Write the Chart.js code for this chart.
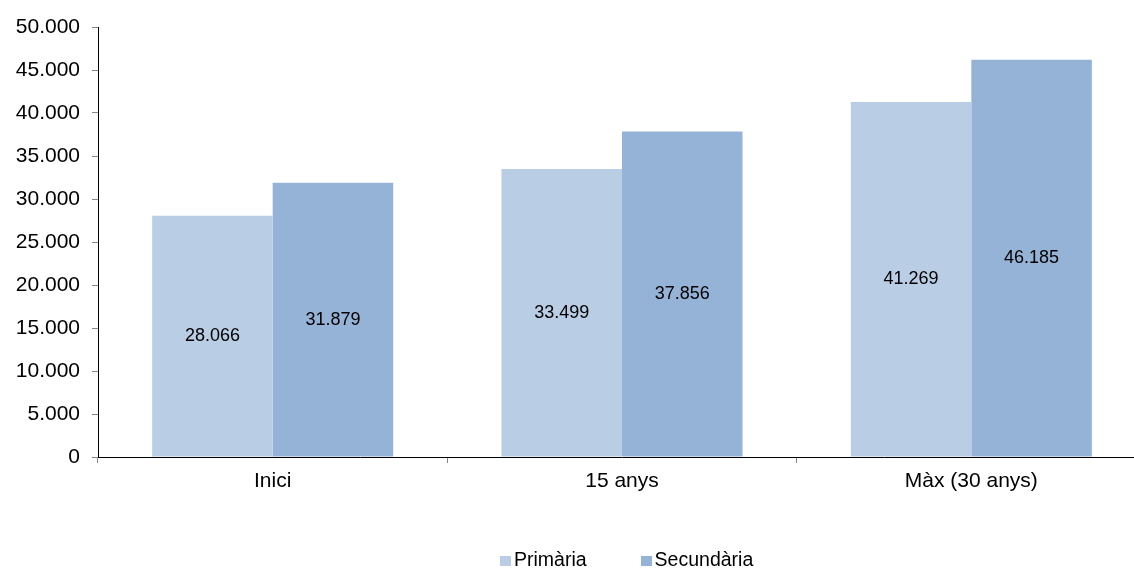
<!DOCTYPE html>
<html>
<head>
<meta charset="utf-8">
<script src="https://cdn.jsdelivr.net/npm/chart.js@4.4.0/dist/chart.umd.min.js"></script>
<style>
  html, body { margin: 0; padding: 0; background: #fff; overflow: hidden; }
  #wrap { position: absolute; left: 0; top: 0; width: 1150px; height: 570px; }
  #legend { position: absolute; left: 500px; top: 547px; display: flex; gap: 54px;
            font: 19.5px "Liberation Sans", Arial, sans-serif; color: #000; line-height: 24px; }
  #legend .item { display: flex; align-items: center; }
  #legend .box { width: 11px; height: 10px; margin-right: 3px; margin-top: 3px; }
</style>
</head>
<body>
<div id="wrap"><canvas id="myChart" width="1150" height="570"></canvas></div>
<div id="legend"></div>
<script>
const labels = ['Inici', '15 anys', 'Màx (30 anys)'];
const primaria = [28066, 33499, 41269];
const secundaria = [31879, 37856, 46185];
const seriesNames = ['Primària', 'Secundària'];
const seriesColors = ['#B9CDE5', '#95B3D7'];

function fmt(n){
  return n.toString().replace(/\B(?=(\d{3})+(?!\d))/g, '.');
}

// labels in the middle of each bar
const barValues = {
  id: 'barValues',
  afterDatasetsDraw(chart){
    const ctx = chart.ctx;
    ctx.save();
    ctx.font = '18px "Liberation Sans", Arial, sans-serif';
    ctx.fillStyle = '#000';
    ctx.textAlign = 'center';
    ctx.textBaseline = 'middle';
    chart.data.datasets.forEach(function(ds, i){
      chart.getDatasetMeta(i).data.forEach(function(bar, j){
        ctx.fillText(fmt(ds.data[j]), bar.x, (bar.y + bar.base) / 2);
      });
    });
    ctx.restore();
  }
};

const data = {
  labels: labels,
  datasets: [{
    label: seriesNames[0],
    backgroundColor: seriesColors[0],
    data: primaria
  },
  {
    label: seriesNames[1],
    backgroundColor: seriesColors[1],
    data: secundaria
  }]
};

const config = {
  type: 'bar',
  data: data,
  options: {
    responsive: false,
    animation: false,
    layout: { padding: { top: 27, right: 4, left: 0, bottom: 0 } },
    datasets: { bar: { categoryPercentage: 0.69, barPercentage: 1.0 } },
    font: { family: '"Liberation Sans", Arial, sans-serif' },
    scales: {
      x: {
        grid: { drawOnChartArea: false, offset: true, tickLength: 6, color: '#888' },
        border: { color: '#000', width: 1 },
        ticks: { color: '#000', padding: 6, font: { size: 21 } },
        afterFit: function(scale){ scale.height = 113; }
      },
      y: {
        min: 0,
        max: 50000,
        grid: { drawOnChartArea: false, tickLength: 6, color: '#888' },
        border: { color: '#000', width: 1 },
        ticks: {
          stepSize: 5000,
          color: '#000',
          padding: 12,
          font: { size: 21 },
          callback: function(v){ return fmt(v); }
        },
        afterFit: function(scale){ scale.width = 98; }
      }
    },
    plugins: {
      tooltip: { enabled: false },
      legend: { display: false }
    }
  },
  plugins: [barValues]
};

var myChart = new Chart(document.getElementById('myChart'), config);

// html legend from the datasets
var legendHtml = '';
myChart.data.datasets.forEach(function(ds){
  legendHtml += '<div class="item"><span class="box" style="background:' + ds.backgroundColor + '"></span>' + ds.label + '</div>';
});
document.getElementById('legend').innerHTML = legendHtml;
</script>
</body>
</html>
